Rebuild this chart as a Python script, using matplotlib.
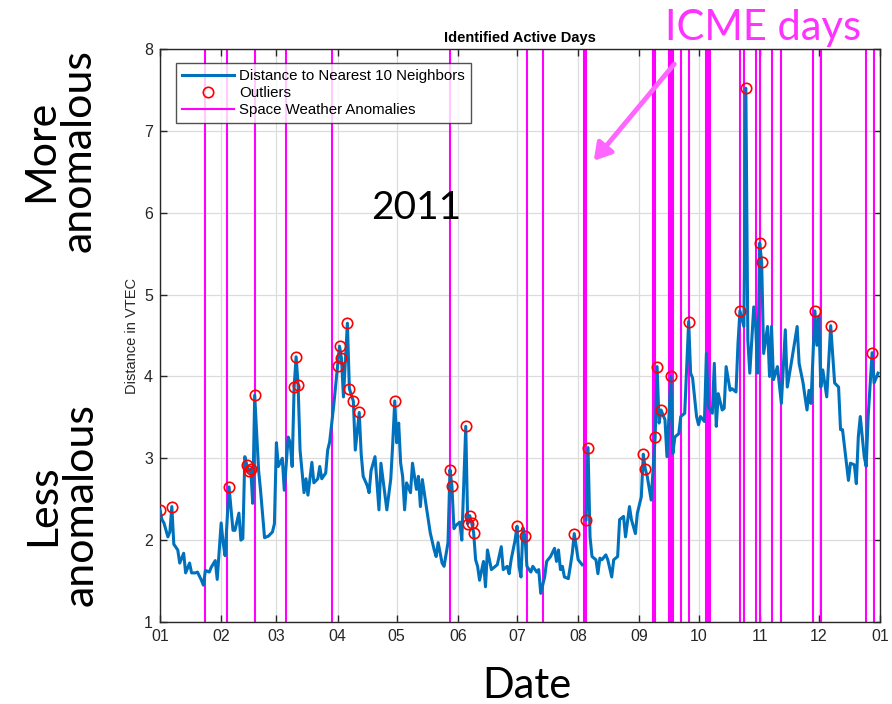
import numpy as np
import pandas as pd
import matplotlib
matplotlib.use("Agg")
import matplotlib.pyplot as plt

# ---- data (day-of-year offsets from 2011-01-01) ----
day_of_year = [0, 1, 2, 4, 5, 6, 7, 9, 10, 12, 13, 15, 16, 18, 19, 21, 22, 23, 25, 26, 28, 29,
               31, 32, 33, 35, 37, 38, 40, 41, 42, 43, 44, 45, 46, 47, 48, 50, 51, 53, 55, 57, 58,
               59, 60, 62, 63, 65, 66, 67, 68, 69, 70, 71, 73, 74, 75, 77, 78, 80, 81, 82, 84, 85,
               86, 88, 90, 91, 92, 93, 95, 96, 98, 99, 101, 102, 103, 105, 106, 107, 109, 111, 112,
               113, 115, 117, 118, 119, 120, 121, 122, 123, 124, 125, 127, 128, 130, 131, 132, 133,
               135, 137, 139, 140, 141, 143, 144, 146, 147, 148, 149, 150, 152, 153, 155, 156, 157,
               158, 159, 160, 161, 162, 164, 165, 166, 168, 170, 171, 173, 174, 176, 177, 178, 180,
               181, 182, 183, 184, 185, 186, 188, 189, 191, 192, 193, 195, 196, 198, 200, 201, 202,
               203, 204, 205, 207, 208, 209, 210, 212, 214, 215, 216, 217, 218, 219, 221, 222, 223,
               224, 226, 227, 229, 230, 232, 233, 235, 236, 238, 239, 241, 242, 244, 245, 246, 247,
               249, 251, 252, 253, 254, 256, 257, 259, 260, 261, 263, 264, 266, 268, 269, 270, 272,
               273, 274, 276, 277, 278, 280, 281, 282, 283, 285, 286, 287, 289, 290, 292, 293, 294,
               296, 297, 298, 299, 301, 302, 303, 304, 305, 306, 308, 309, 310, 311, 313, 315, 317,
               318, 320, 323, 324, 326, 327, 328, 329, 330, 332, 333, 334, 335, 336, 338, 340, 342,
               344, 345, 346, 348, 349, 350, 352, 353, 354, 355, 357, 358, 359, 361, 362, 364]
distance = [2.37, 2.25, 2.21, 2.04, 2.10, 2.41, 1.95, 1.88, 1.72, 1.84, 1.60, 1.72, 1.60, 1.60, 1.61,
            1.51, 1.45, 1.63, 1.61, 1.67, 1.75, 1.52, 2.21, 1.97, 1.81, 2.65, 2.12, 2.12, 2.33, 2.00,
            2.02, 3.02, 2.92, 2.84, 2.87, 2.45, 3.77, 2.85, 2.60, 2.03, 2.05, 2.10, 2.20, 3.19, 2.90,
            3.00, 2.61, 3.26, 3.19, 2.90, 3.87, 4.24, 3.90, 3.10, 2.58, 2.75, 2.55, 2.95, 2.70, 2.75,
            2.90, 2.75, 2.82, 3.10, 3.20, 3.63, 4.13, 4.37, 4.22, 3.75, 4.65, 3.85, 3.70, 3.10, 3.56,
            3.05, 2.78, 2.67, 2.58, 2.85, 3.02, 2.37, 2.94, 2.75, 2.37, 2.75, 3.19, 3.70, 3.19, 3.43,
            2.94, 2.78, 2.37, 2.70, 2.58, 2.94, 2.62, 2.78, 2.41, 2.74, 2.41, 2.09, 1.88, 1.80, 1.97,
            1.72, 1.68, 1.97, 2.86, 2.66, 2.14, 2.18, 2.22, 2.00, 3.39, 2.20, 2.30, 2.21, 2.09, 1.76,
            1.68, 1.51, 1.74, 1.43, 1.88, 1.64, 1.68, 1.70, 1.92, 1.64, 1.68, 1.59, 1.76, 2.00, 2.17,
            1.68, 1.55, 2.15, 2.05, 1.68, 1.61, 1.68, 1.61, 1.64, 1.35, 1.55, 1.74, 1.80, 1.90, 1.74,
            1.88, 1.64, 1.68, 1.55, 1.53, 1.68, 1.84, 2.08, 1.76, 1.70, np.nan, 2.25, 3.13, 2.04,
            1.80, 1.76, 1.59, 1.78, 1.76, 1.82, 1.76, 1.55, 1.76, 1.80, 2.25, 2.29, 2.04, 2.41, 2.25,
            2.08, 2.33, 2.53, 3.05, 2.87, 2.78, 2.49, 3.26, 4.12, 3.43, 3.59, 3.47, 3.02, 4.00, 3.06,
            3.26, 3.30, 3.51, 3.55, 4.67, 4.04, 3.98, 3.51, 3.41, 3.51, 3.45, 4.28, 3.63, 3.55, 4.16,
            3.39, 3.79, 3.59, 3.61, 4.12, 3.83, 3.85, 3.81, 4.40, 4.80, 4.61, 7.52, 4.44, 4.04, 4.85,
            4.61, 4.04, 5.63, 5.40, 4.28, 4.61, 4.00, 4.61, 3.96, 4.12, 3.67, 4.57, 3.87, 4.16, 4.61,
            4.16, 3.92, 3.75, 3.59, 3.83, 3.67, 4.80, 4.38, 4.73, 3.87, 4.08, 3.75, 4.62, 3.92, 3.87,
            3.35, 3.35, 2.94, 2.73, 2.94, 2.92, 2.69, 3.26, 3.51, 3.02, 2.90, 3.51, 4.29, 3.92, 4.04]
outlier_days = [0, 6, 35, 44, 45, 46, 48, 68, 69, 70, 90, 91, 92, 95, 96, 98, 101, 119, 147, 148,
                155, 156, 157, 158, 159, 181, 185, 210, 216, 217, 245, 246, 251, 252, 254, 259, 268,
                294, 297, 304, 305, 332, 340, 361]
anomaly_days = [23, 34, 48, 64, 87, 147, 186, 194, 215, 216, 250, 251, 258, 259, 260, 264, 268,
                277, 278, 279, 294, 296, 302, 304, 310, 315, 331, 335, 358, 362]
month_labels = ["01", "02", "03", "04", "05", "06", "07", "08", "09", "10", "11", "12", "01"]

start = pd.Timestamp("2011-01-01")
dates = start + pd.to_timedelta(day_of_year, unit="D")
series = pd.Series(distance, index=day_of_year)
out_dates = start + pd.to_timedelta(outlier_days, unit="D")
out_vals = series.loc[outlier_days].values
anom_dates = start + pd.to_timedelta(anomaly_days, unit="D")
month_ticks = pd.date_range("2011-01-01", "2012-01-01", freq="MS")

plt.rcParams["font.family"] = ["Liberation Sans", "DejaVu Sans"]

W, H = 892, 704
fig = plt.figure(figsize=(W / 100, H / 100), dpi=100)
ax = fig.add_axes([160 / W, 1 - 622 / H, (880 - 160) / W, (622 - 49) / H])

ax.plot(dates, distance, color="#0072BD", lw=2.2, label="Distance to Nearest 10 Neighbors", zorder=3)
ax.plot(out_dates, out_vals, linestyle="none", marker="o", markersize=7.5, markerfacecolor="none",
        markeredgecolor="#FF0000", markeredgewidth=1.2, label="Outliers", zorder=4)
for i, d in enumerate(anom_dates):
    ax.axvline(d, color="#FF00FF", lw=1.5, zorder=2,
               label="Space Weather Anomalies" if i == 0 else None)

ax.set_xlim(pd.Timestamp("2011-01-01"), pd.Timestamp("2012-01-01"))
ax.set_ylim(1, 8)
ax.set_xticks(month_ticks)
ax.set_xticklabels(month_labels)
ax.set_yticks(range(1, 9))
ax.grid(True, color="#dcdcdc", lw=0.9, zorder=0)
ax.tick_params(direction="in", top=True, right=True, length=5, width=1, labelsize=11.5,
               colors="#262626", pad=5)
for s in ax.spines.values():
    s.set_color("#262626")
    s.set_linewidth(1.0)

ax.set_title("Identified Active Days", fontsize=10.5, fontweight="bold", pad=5)
ax.set_ylabel("Distance in VTEC", fontsize=10.5, color="#262626", labelpad=4)

leg = ax.legend(loc="upper left", bbox_to_anchor=(0.022, 0.976), borderaxespad=0, fontsize=10.8,
                frameon=True, fancybox=False, edgecolor="#262626", handlelength=3.5, borderpad=0.4,
                labelspacing=0.22, handletextpad=0.3)
leg.get_frame().set_linewidth(1.0)

# annotations outside the axes
big = ["Lato", "DejaVu Sans"]
fig.text(60 / W, 1 - 151 / H, "More\nanomalous", rotation=90, ha="center", va="center",
         fontsize=31, family=big, linespacing=1.0)
fig.text(62 / W, 1 - 505 / H, "Less\nanomalous", rotation=90, ha="center", va="center",
         fontsize=31, family=big, linespacing=1.0)
fig.text(416 / W, 1 - 208 / H, "2011", ha="center", va="center", fontsize=28, family=big)
fig.text(527 / W, 1 - 686 / H, "Date", ha="center", va="center", fontsize=30, family=big)
fig.text(763 / W, 1 - 28 / H, "ICME days", ha="center", va="center", fontsize=30, family=big,
         color="#FF33FF")
fig.patches.append(matplotlib.patches.FancyArrowPatch(
    (676 / W, 1 - 62 / H), (592 / W, 1 - 163 / H), transform=fig.transFigure,
    arrowstyle="-|>,head_length=10,head_width=6", color="#FF66FF", lw=3.5))

fig.savefig("out.png", dpi=100)
